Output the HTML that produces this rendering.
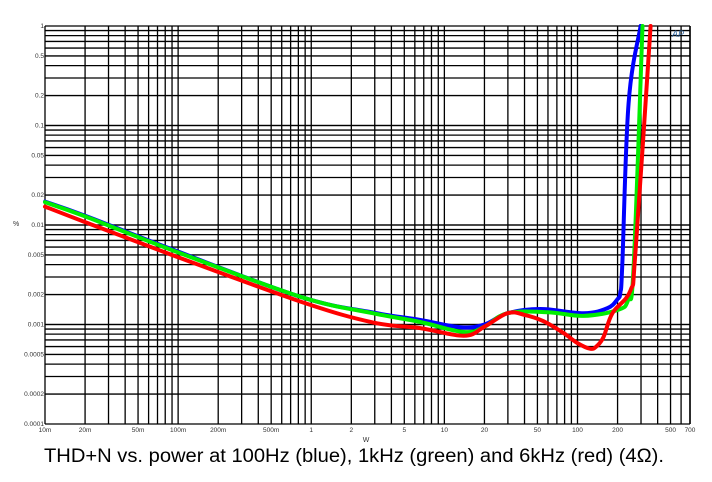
<!DOCTYPE html>
<html><head><meta charset="utf-8"><style>
html,body{margin:0;padding:0;background:#fff;}
svg{display:block;font-family:"Liberation Sans",Arial,sans-serif;}
</style></head><body>
<svg id="chart" width="712" height="482" viewBox="0 0 712 482">
<g id="grid"></g>
<g id="ticks"></g>
<g id="series"></g>
<text x="13" y="226" font-size="7" fill="#333">%</text>
<text x="366" y="442" font-size="7" fill="#333" text-anchor="middle">W</text>
<text x="672" y="37" font-size="9" fill="#3a6ea5" font-style="italic">AP</text>
<text x="44" y="462" font-size="19" fill="#000" textLength="620" lengthAdjust="spacingAndGlyphs">THD+N vs. power at 100Hz (blue), 1kHz (green) and 6kHz (red) (4Ω).</text>
</svg>
<script>
const xTickVals=[0.01,0.02,0.05,0.1,0.2,0.5,1,2,5,10,20,50,100,200,500,700];
const xTickLabels=["10m","20m","50m","100m","200m","500m","1","2","5","10","20","50","100","200","500","700"];
const yTickVals=[1,0.5,0.2,0.1,0.05,0.02,0.01,0.005,0.002,0.001,0.0005,0.0002,0.0001];
const yTickLabels=["1","0.5","0.2","0.1","0.05","0.02","0.01","0.005","0.002","0.001","0.0005","0.0002","0.0001"];
const blueW=[0.01,0.02,0.09,0.83,2.9,6.6,13.2,20,29.8,52.7,111,168,200,210,217,242,298];
const blueP=[0.0172,0.0124,0.0057,0.0019,0.00132,0.00111,0.00094,0.001,0.0013,0.00143,0.0013,0.00146,0.0018,0.0021,0.004,0.168,1];
const greenW=[0.01,0.02,0.09,0.83,2.9,6.6,14,20,29.8,60,111,200,240,264,308];
const greenP=[0.017,0.0122,0.0056,0.0019,0.0013,0.00106,0.00084,0.00095,0.0013,0.00133,0.00122,0.0014,0.00176,0.0038,1];
const redW=[0.01,0.02,0.09,0.83,2.9,6.6,14,20,29.8,40,55.5,78.6,100,125,140,157,183,250,273,354];
const redP=[0.0153,0.0107,0.005,0.0017,0.00105,0.00092,0.00077,0.00095,0.0013,0.00125,0.00108,0.00082,0.00065,0.00057,0.00061,0.00075,0.0013,0.0022,0.0056,1];

const L=45,R=690,T=26,B=424;
const xMin=0.01,xMax=700,yMin=0.0001,yMax=1;
function X(v){return L+(R-L)*Math.log10(v/xMin)/Math.log10(xMax/xMin);}
function Y(v){return T+(B-T)*Math.log10(yMax/v)/Math.log10(yMax/yMin);}
const NS="http://www.w3.org/2000/svg";
const grid=document.getElementById('grid'),ticks=document.getElementById('ticks'),series=document.getElementById('series');
function mk(tag,attrs,parent){const e=document.createElementNS(NS,tag);for(const k in attrs)e.setAttribute(k,attrs[k]);parent.appendChild(e);return e;}
for(let d=0.01;d<=100;d*=10){for(let m=1;m<=9;m++){const v=d*m;if(v>xMax+1e-9)break;
 const l=mk('line',{x1:X(v),x2:X(v),y1:T,y2:B,stroke:'#000','stroke-width':1.3},grid);
 
 }}
{const l=mk('line',{x1:R,x2:R,y1:T,y2:B,stroke:'#000','stroke-width':1.5},grid);
 
 }
for(let d=0.0001;d<=0.11;d*=10){for(let m=1;m<=10;m++){const v=d*m;
 const l=mk('line',{x1:L,x2:R,y1:Y(v),y2:Y(v),stroke:'#000','stroke-width':1.3},grid);
 
 }}
xTickVals.forEach((v,i)=>{const t=mk('text',{x:X(v),y:B+8,'font-size':6.5,'text-anchor':'middle',fill:'#333'},ticks);t.textContent=xTickLabels[i];
 
 });
yTickVals.forEach((v,i)=>{const t=mk('text',{x:L-1,y:Y(v)+2,'font-size':6.5,'text-anchor':'end',fill:'#333'},ticks);t.textContent=yTickLabels[i];
 
 });
function draw(ws,ps,color,name){
 const pts=ws.map((w,i)=>[X(w),Math.max(T,Y(ps[i]))]);
 let d='M'+pts[0][0].toFixed(1)+','+pts[0][1].toFixed(1);
 const k=0.18;
 for(let i=0;i<pts.length-1;i++){
  const p0=pts[Math.max(0,i-1)],p1=pts[i],p2=pts[i+1],p3=pts[Math.min(pts.length-1,i+2)];
  const c1=[p1[0]+(p2[0]-p0[0])*k,p1[1]+(p2[1]-p0[1])*k];
  const c2=[p2[0]-(p3[0]-p1[0])*k,p2[1]-(p3[1]-p1[1])*k];
  d+=' C'+c1[0].toFixed(1)+','+c1[1].toFixed(1)+' '+c2[0].toFixed(1)+','+c2[1].toFixed(1)+' '+p2[0].toFixed(1)+','+p2[1].toFixed(1);
 }
 const p=mk('path',{d:d,fill:'none',stroke:color,'stroke-width':4,'stroke-linejoin':'round','stroke-linecap':'round'},series);
 
 }
draw(blueW,blueP,'#0000ff','series-100hz-blue');
draw(greenW,greenP,'#00ee00','series-1khz-green');
draw(redW,redP,'#ff0000','series-6khz-red');
</script>
</body></html>
